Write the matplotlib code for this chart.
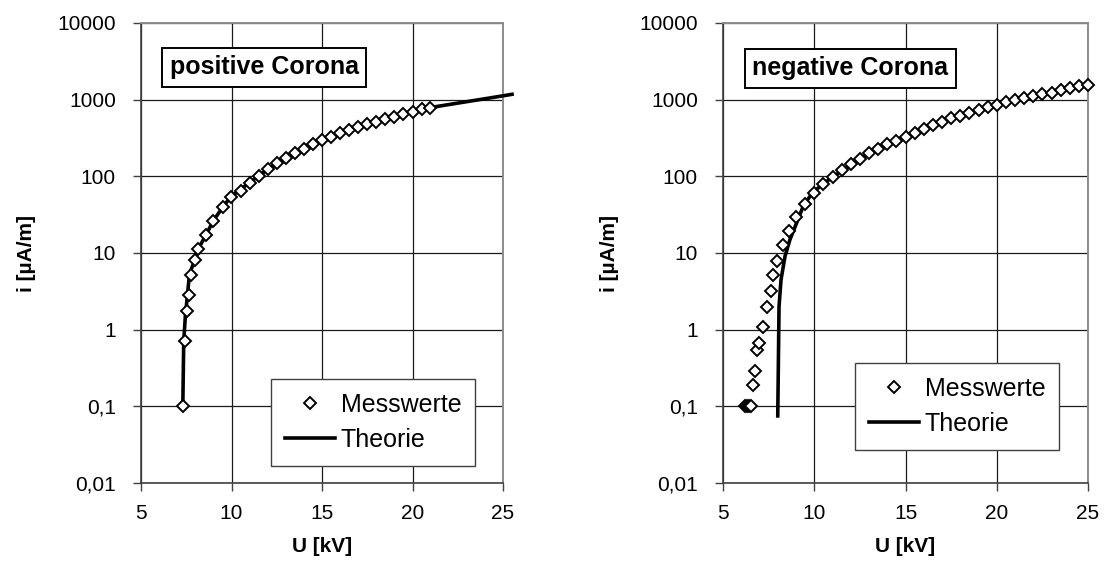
import matplotlib
matplotlib.use("Agg")
import matplotlib.pyplot as plt
from matplotlib.ticker import FixedLocator, FixedFormatter, NullLocator

plt.rcParams['font.family'] = ['Liberation Sans', 'DejaVu Sans']

# ---- data: positive corona ----
pos_meas_U = [7.31, 7.44, 7.52, 7.64, 7.74, 7.98, 8.16, 8.58, 8.98, 9.53, 9.96,
              10.5, 11.0, 11.5, 12.0, 12.5, 13.0, 13.5, 14.0, 14.5, 15.0, 15.5,
              16.0, 16.5, 17.0, 17.5, 18.0, 18.5, 19.0, 19.5, 20.0, 20.5, 20.96]
pos_meas_i = [0.1, 0.72, 1.77, 2.8, 5.2, 8.2, 11.3, 17, 26, 40, 54,
              64, 83, 101, 123, 148, 172, 204, 230, 262, 295, 326,
              365, 403, 446, 478, 519, 556, 603, 646, 692, 751, 790]
pos_theo_U = [7.31, 7.36, 7.45, 7.55, 7.66, 7.76, 7.98, 8.16, 8.58, 8.98, 9.53, 9.96,
              11, 12, 13, 14, 15, 16, 17, 18, 19, 20, 21, 22, 23, 24, 25, 25.5]
pos_theo_i = [0.1, 0.7, 1.5, 2.6, 4.8, 6.0, 8.2, 11.3, 17, 26, 40, 54,
              83, 123, 172, 230, 295, 365, 446, 519, 603, 692, 790, 863, 942, 1028, 1122, 1175]

# ---- data: negative corona ----
neg_meas_U = [6.2, 6.3, 6.4, 6.53, 6.66, 6.75, 6.88, 6.99, 7.21, 7.43, 7.63, 7.76, 7.98,
              8.31, 8.62, 8.98, 9.49,
              10.0, 10.5, 11.0, 11.5, 12.0, 12.5, 13.0, 13.5, 14.0, 14.5, 15.0, 15.5,
              16.0, 16.5, 17.0, 17.5, 18.0, 18.5, 19.0, 19.5, 20.0, 20.5, 21.0, 21.5,
              22.0, 22.5, 23.0, 23.5, 24.0, 24.5, 25.0]
neg_meas_i = [0.1, 0.1, 0.1, 0.1, 0.19, 0.29, 0.55, 0.67, 1.07, 1.96, 3.16, 5.2, 7.8,
              12.6, 19.3, 29.7, 44,
              60, 80, 98, 120, 143, 170, 200, 228, 262, 290, 330, 370,
              415, 465, 505, 570, 620, 670, 730, 800, 860, 920, 980, 1040,
              1110, 1180, 1240, 1340, 1420, 1500, 1560]
neg_theo_U = [8.0, 8.03, 8.07, 8.18, 8.4, 8.67, 8.95, 9.4, 9.77, 10.2, 11, 12, 13, 14,
              15, 16, 17, 18, 19, 20, 21, 22, 23, 24, 25]
neg_theo_i = [0.075, 0.3, 2.0, 4.5, 9.1, 15, 22, 41, 55, 70, 98, 140, 198, 258,
              325, 410, 500, 615, 725, 850, 975, 1100, 1240, 1410, 1550]

x_ticks = [5, 10, 15, 20, 25]
y_ticks = [0.01, 0.1, 1, 10, 100, 1000, 10000]
y_labels = ['0,01', '0,1', '1', '10', '100', '1000', '10000']

W, H = 1105, 570
fig = plt.figure(figsize=(W / 100, H / 100), dpi=100)

def px_axes(x0, x1, ytop, ybot):
    return fig.add_axes([x0 / W, 1 - ybot / H, (x1 - x0) / W, (ybot - ytop) / H])

FS_TICK = 15
FS_LAB = 15
FS_LEG = 18
FS_BOX = 18

panels = [
    (px_axes(141, 503, 23, 483), pos_meas_U, pos_meas_i, pos_theo_U, pos_theo_i,
     'positive Corona', (0.341, 0.904), (0.359, 0.226), 36),
    (px_axes(723, 1088, 23, 483), neg_meas_U, neg_meas_i, neg_theo_U, neg_theo_i,
     'negative Corona', (0.349, 0.902), (0.3616, 0.261), 619),
]

for ax, mU, mi, tU, ti, title, tpos, lpos, ylx in panels:
    ax.set_yscale('log')
    ax.set_xlim(5, 25)
    ax.set_ylim(0.01, 10000)
    ax.xaxis.set_major_locator(FixedLocator(x_ticks))
    ax.yaxis.set_major_locator(FixedLocator(y_ticks))
    ax.yaxis.set_major_formatter(FixedFormatter(y_labels))
    ax.yaxis.set_minor_locator(NullLocator())
    ax.grid(True, which='major', color='#1a1a1a', lw=0.9)
    ax.set_axisbelow(True)
    for s in ['top', 'right']:
        ax.spines[s].set_color('#8c8c8c')
        ax.spines[s].set_linewidth(1.4)
    for s in ['left', 'bottom']:
        ax.spines[s].set_color('#404040')
        ax.spines[s].set_linewidth(1.2)
    ax.tick_params(direction='out', length=6, width=1.0, color='#404040',
                   labelsize=FS_TICK)
    ax.tick_params(axis='y', pad=12)
    ax.tick_params(axis='x', pad=9)
    ax.plot(tU, ti, color='black', lw=2.6, label='Theorie', zorder=3, clip_on=False)
    ax.plot(mU, mi, ls='none', marker='D', ms=6.3, mfc='white', mec='black',
            mew=1.4, label='Messwerte', zorder=4, clip_on=False)
    ax.set_xlabel('U [kV]', fontsize=FS_LAB, fontweight='bold', labelpad=10)
    ax.set_ylabel('i [µA/m]', fontsize=FS_LAB, fontweight='bold')
    pos = ax.get_position()
    ax.yaxis.set_label_coords((ylx - pos.x0 * W) / (pos.width * W), 0.5)
    ax.text(tpos[0], tpos[1], title, transform=ax.transAxes, ha='center', va='center',
            fontsize=FS_BOX, fontweight='bold',
            bbox=dict(boxstyle='square,pad=0.3', fc='white', ec='black', lw=1.4))
    h, l = ax.get_legend_handles_labels()
    leg = ax.legend([h[1], h[0]], [l[1], l[0]], loc='upper left',
                    bbox_to_anchor=lpos, borderaxespad=0, fontsize=FS_LEG,
                    handlelength=2.0, handletextpad=0.25, labelspacing=0.45,
                    borderpad=0.55, fancybox=False, framealpha=1, edgecolor='#404040')
    leg.get_frame().set_linewidth(1.0)

fig.savefig('out.png', dpi=100, facecolor='white')
